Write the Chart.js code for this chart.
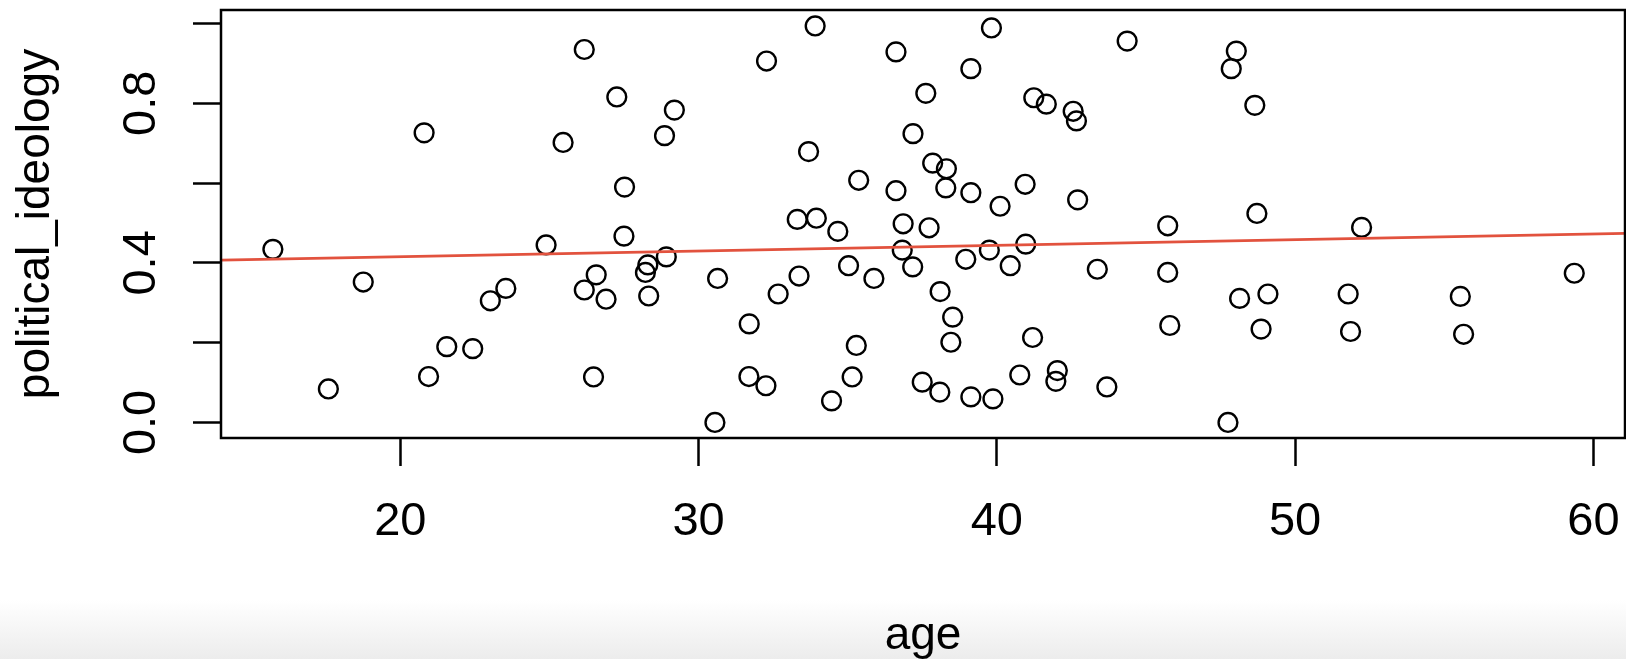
<!DOCTYPE html>
<html>
<head>
<meta charset="utf-8">
<title>political_ideology vs age</title>
<script src="https://cdn.jsdelivr.net/npm/chart.js@4.4.1/dist/chart.umd.min.js"></script>
<style>
  html, body { margin: 0; padding: 0; }
  body {
    width: 1626px;
    height: 659px;
    overflow: hidden;
    background: linear-gradient(to bottom, #ffffff 0px, #ffffff 600px, #ececec 659px);
  }
  #contenedor { position: relative; width: 1626px; height: 659px; }
</style>
</head>
<body>
<div id="contenedor"><canvas id="grafico"></canvas></div>
<script>
// datos
const age = [
  15.73, 20.80, 18.76, 17.59, 23.54, 23.02, 21.56, 22.43, 20.95, 24.89,
  26.17, 27.26, 25.46, 29.19, 28.86, 27.52, 27.50, 26.57, 26.17, 26.90,
  28.30, 28.22, 28.92, 28.33, 26.48, 30.64, 30.55, 31.70, 31.69, 32.26,
  32.28, 32.67, 33.37, 33.31, 33.95, 33.69, 33.91, 34.67, 35.37, 35.03,
  35.88, 35.29, 35.15, 34.46,
  36.62, 39.82, 39.13, 37.62, 44.37, 48.03, 47.86, 41.24, 41.66, 42.56,
  42.67, 37.19, 37.85, 38.31, 38.29, 36.62, 39.13, 40.95, 40.11, 42.71,
  36.86, 37.73, 45.73, 36.83, 37.18, 38.96, 39.75, 40.45, 40.97, 43.37,
  45.73, 38.10, 38.52, 38.46, 41.20, 45.80, 48.14, 37.50, 38.09, 39.13,
  39.87, 40.77, 42.03, 41.98, 43.69, 47.75,
  48.65, 48.72, 52.23, 49.09, 48.86, 51.78, 51.86, 55.54, 55.65, 59.36
];
const politicalIdeology = [
  0.434, 0.726, 0.352, 0.084, 0.336, 0.305, 0.190, 0.185, 0.115, 0.445,
  0.935, 0.816, 0.702, 0.783, 0.719, 0.590, 0.467, 0.370, 0.332, 0.309,
  0.395, 0.376, 0.415, 0.317, 0.114, 0.361, 0.000, 0.247, 0.115, 0.092,
  0.906, 0.322, 0.367, 0.509, 0.512, 0.679, 0.994, 0.479, 0.607, 0.393,
  0.361, 0.193, 0.114, 0.054,
  0.929, 0.989, 0.887, 0.825, 0.956, 0.931, 0.887, 0.814, 0.798, 0.780,
  0.756, 0.724, 0.650, 0.636, 0.588, 0.581, 0.576, 0.597, 0.542, 0.558,
  0.498, 0.488, 0.493, 0.432, 0.390, 0.409, 0.432, 0.393, 0.447, 0.384,
  0.376, 0.328, 0.264, 0.201, 0.213, 0.243, 0.311, 0.101, 0.076, 0.064,
  0.059, 0.119, 0.130, 0.103, 0.089, 0.000,
  0.795, 0.524, 0.489, 0.322, 0.234, 0.322, 0.228, 0.316, 0.221, 0.374
];

// recta de regresion (extremos del eje x)
const fitAge = [13.99, 61.06];
const fitIdeology = [0.407, 0.474];

const xTicks = [20, 30, 40, 50, 60];
const yTicks = [0, 0.2, 0.4, 0.6, 0.8, 1.0];
const yLabels = [0, 0.4, 0.8];

const fuente = '"Liberation Sans", Arial, Helvetica, sans-serif';

// marco del grafico y etiquetas del eje y giradas (como en R)
const marcoPlugin = {
  id: 'marco',
  afterDraw(chart) {
    const { ctx, chartArea: a, scales: { y } } = chart;
    ctx.save();
    ctx.strokeStyle = '#000';
    ctx.lineWidth = 2.5;
    ctx.strokeRect(a.left, a.top, a.right - a.left, a.bottom - a.top);

    ctx.fillStyle = '#000';
    ctx.font = '47px ' + fuente;
    ctx.textAlign = 'center';
    ctx.textBaseline = 'alphabetic';
    yLabels.forEach(v => {
      ctx.save();
      ctx.translate(155, y.getPixelForValue(v));
      ctx.rotate(-Math.PI / 2);
      ctx.fillText(v.toFixed(1), 0, 0);
      ctx.restore();
    });
    ctx.restore();
  }
};

const ctx = document.getElementById('grafico').getContext('2d');

new Chart(ctx, {
  type: 'scatter',
  data: {
    datasets: [
      {
        label: 'fit',
        data: fitAge.map((x, i) => ({ x: x, y: fitIdeology[i] })),
        showLine: true,
        borderColor: 'rgb(226, 82, 62)',
        borderWidth: 2.6,
        pointRadius: 0,
        order: 1
      },
      {
        label: 'political_ideology',
        data: age.map((x, i) => ({ x: x, y: politicalIdeology[i] })),
        backgroundColor: 'rgba(0,0,0,0)',
        borderColor: '#000',
        borderWidth: 2.4,
        pointRadius: 9.4,
        pointHoverRadius: 9.4,
        order: 2
      }
    ]
  },
  options: {
    responsive: true,
    maintainAspectRatio: false,
    animation: false,
    layout: {
      autoPadding: false,
      padding: { top: 10, right: 1, left: 0, bottom: 0 }
    },
    plugins: {
      legend: { display: false },
      tooltip: { enabled: false }
    },
    scales: {
      x: {
        type: 'linear',
        min: 13.99,
        max: 61.06,
        afterBuildTicks: scale => { scale.ticks = xTicks.map(v => ({ value: v })); },
        afterFit: scale => {
          scale.height = 221;
          // sin relleno extra por las etiquetas de los extremos
          scale.paddingLeft = 0;
          scale.paddingRight = 0;
        },
        border: { display: false },
        grid: {
          drawOnChartArea: false,
          drawTicks: true,
          tickLength: 28,
          tickWidth: 2.5,
          tickColor: '#000'
        },
        ticks: {
          color: '#000',
          padding: 28,
          maxRotation: 0,
          autoSkip: false,
          font: { family: fuente, size: 47 }
        },
        title: {
          display: true,
          text: 'age',
          color: '#000',
          padding: { top: 0, bottom: 0 },
          font: { family: fuente, size: 46, lineHeight: 1.0 }
        }
      },
      y: {
        type: 'linear',
        min: -0.039,
        max: 1.034,
        afterBuildTicks: scale => { scale.ticks = yTicks.map(v => ({ value: v })); },
        afterFit: scale => {
          scale.width = 221;
          scale.paddingTop = 0;
          scale.paddingBottom = 0;
        },
        border: { display: false },
        grid: {
          drawOnChartArea: false,
          drawTicks: true,
          tickLength: 28,
          tickWidth: 2.5,
          tickColor: '#000'
        },
        ticks: { display: false },
        title: {
          display: true,
          text: 'political_ideology',
          color: '#000',
          padding: { top: 9, bottom: 0 },
          font: { family: fuente, size: 46 }
        }
      }
    }
  },
  plugins: [marcoPlugin]
});
</script>
</body>
</html>
